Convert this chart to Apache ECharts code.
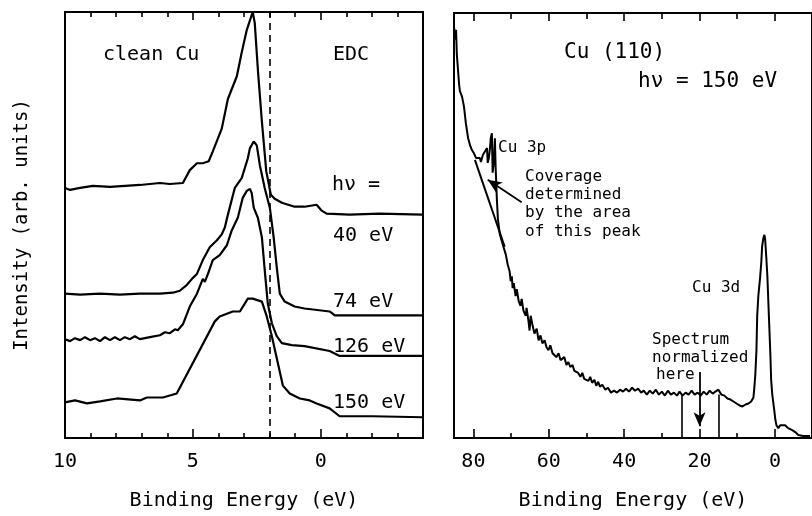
<!DOCTYPE html>
<html><head><meta charset="utf-8">
<script src="https://cdn.jsdelivr.net/npm/echarts@6/dist/echarts.min.js"></script>
<style>html,body{margin:0;padding:0;background:#fff}#c{width:812px;height:516px}</style>
</head><body><div id="c"></div>
<script>
// ---------- Left panel: EDCs of clean Cu (binding energy eV, intensity arb. units) ----------
const edc40E = [10.00, 9.80, 9.41, 8.91, 8.24, 7.07, 6.29, 5.90, 5.39, 5.12, 4.84, 4.61, 4.38, 4.22, 3.87, 3.63, 3.28, 3.09, 2.89, 2.66, 2.58, 2.45, 2.30, 2.13, 1.95, 1.80, 1.52, 1.02, 0.63, 0.16, -0.04, -0.23, -1.13, -2.30, -3.98];
const edc40I = [253, 251, 253, 255, 254, 256, 258, 257, 258, 271, 278, 278, 280, 290, 313, 343, 366, 390, 413, 431, 420, 370, 320, 270, 246, 242, 238, 234, 234, 236, 230, 227, 226, 227, 226];

const edc74E = [10.00, 9.41, 8.63, 7.85, 7.07, 6.29, 5.78, 5.51, 5.23, 5.00, 4.84, 4.61, 4.34, 4.06, 3.87, 3.75, 3.63, 3.36, 3.09, 2.85, 2.77, 2.62, 2.50, 2.38, 2.19, 1.99, 1.84, 1.72, 1.60, 1.41, 1.02, 0.63, -0.35, -0.55, -3.98];
const edc74I = [146, 145, 146, 145, 146, 146, 147, 149, 155, 162, 166, 180, 193, 200, 206, 213, 226, 253, 263, 283, 293, 300, 296, 276, 253, 233, 203, 173, 146, 138, 133, 131, 128, 124, 124];

const edc126E = [10.00, 9.80, 9.61, 9.41, 9.22, 9.02, 8.83, 8.63, 8.44, 8.24, 8.05, 7.85, 7.66, 7.46, 7.27, 7.07, 6.68, 6.29, 6.09, 5.90, 5.70, 5.59, 5.39, 5.12, 4.84, 4.61, 4.53, 4.41, 4.22, 3.95, 3.67, 3.48, 3.24, 3.05, 2.89, 2.77, 2.70, 2.62, 2.46, 2.30, 2.19, 2.07, 1.91, 1.72, 1.52, 1.13, 0.63, -0.35, -0.74, -3.98];
const edc126I = [100, 98, 101, 99, 102, 99, 101, 98, 102, 99, 102, 99, 102, 100, 103, 100, 102, 104, 107, 106, 110, 109, 115, 133, 146, 161, 158, 166, 180, 185, 195, 210, 223, 243, 250, 252, 248, 233, 223, 203, 170, 136, 116, 103, 96, 94, 93, 88, 83, 83];

const edc150E = [10.00, 9.61, 9.14, 8.63, 7.97, 7.07, 6.80, 6.17, 5.63, 4.14, 3.95, 3.44, 3.16, 2.85, 2.66, 2.30, 2.11, 1.91, 1.80, 1.48, 1.21, 0.82, 0.43, 0.16, -0.35, -0.74, -2.03, -3.98];
const edc150I = [36, 38, 35, 37, 40, 38, 41, 41, 45, 118, 123, 128, 128, 141, 141, 138, 123, 103, 90, 53, 45, 40, 38, 35, 30, 22, 22, 21];

const edcRefLine = 2.0;              // dashed vertical reference (eV)
const leftMajorTicks = [10, 5, 0];
const leftMinorTicks = [9, 8, 7, 6, 4, 3, 2, 1, -1, -2, -3];
const leftRange = [-4, 10];
const leftIRange = [0, 431];

// ---------- Right panel: Cu(110) spectrum at hv = 150 eV ----------
const specE = [85.1, 84.9, 84.6, 84.4, 84.1, 83.8, 83.6, 83.0, 82.5, 82.0,
  81.4, 80.9, 80.4, 79.9, 79.3, 78.8, 78.3, 78.0, 77.5, 77.0,
  76.4, 76.2, 75.9, 75.6, 75.4, 75.1, 74.9, 74.6, 74.3, 74.1,
  73.8, 73.5, 73.0, 72.2, 71.4, 70.9, 70.4, 70.1, 69.8, 69.6,
  69.3, 68.8, 68.5, 68.0, 67.5, 67.2, 66.7, 66.1, 65.9, 65.4,
  65.1, 64.8, 64.3, 63.8, 63.2, 62.7, 62.2, 61.7, 61.1, 60.6,
  60.1, 59.6, 59.0, 58.5, 58.0, 57.4, 56.9, 56.4, 55.9, 55.3,
  54.8, 54.3, 53.7, 53.2, 52.7, 52.2, 51.6, 51.1, 50.6, 50.1,
  49.5, 49.0, 48.5, 47.9, 47.4, 46.9, 46.4, 45.8, 45.0, 44.3,
  43.5, 42.7, 41.9, 41.1, 40.3, 39.5, 38.7, 37.9, 37.1, 36.3,
  35.5, 34.8, 34.0, 33.2, 32.4, 31.6, 30.8, 30.0, 29.2, 28.4,
  27.6, 26.8, 26.0, 25.3, 24.5, 23.7, 22.9, 22.1, 21.3, 20.5,
  19.7, 18.9, 18.1, 17.3, 16.5, 15.8, 15.0, 14.2, 13.4, 12.6,
  11.8, 11.0, 10.2, 9.4, 8.6, 7.8, 7.0, 6.3, 5.7, 5.5,
  5.2, 4.9, 4.7, 4.4, 4.1, 3.9, 3.6, 3.4, 3.1, 2.8,
  2.6, 2.3, 2.0, 1.8, 1.5, 1.2, 1.0, 0.7, 0.2, -0.1,
  -0.4, -0.9, -1.4, -1.9, -2.7, -3.5, -4.6, -5.4, -6.2, -7.5, -9.3];
const specI = [416, 404, 414, 389, 374, 359, 352, 346, 336, 319,
  304, 297, 292, 289, 284, 282, 284, 280, 287, 289,
  294, 279, 284, 294, 304, 309, 269, 279, 304, 274,
  244, 222, 207, 196, 186, 176, 169, 159, 164, 152,
  157, 144, 151, 139, 134, 141, 129, 124, 132, 119,
  109, 124, 114, 106, 111, 99, 104, 96, 99, 92,
  89, 94, 86, 88, 82, 86, 79, 78, 82, 74,
  77, 72, 74, 68, 70, 66, 62, 66, 60, 62,
  58, 62, 56, 59, 53, 57, 52, 54, 49, 51,
  46, 48, 46, 49, 47, 50, 47, 51, 48, 50,
  46, 48, 44, 48, 45, 49, 44, 47, 43, 48,
  44, 46, 43, 47, 43, 46, 44, 48, 44, 46,
  43, 47, 44, 48, 45, 47, 49, 44, 43, 40,
  39, 37, 35, 33, 32, 34, 35, 37, 41, 49,
  64, 89, 124, 144, 156, 164, 179, 194, 202, 206,
  202, 184, 164, 144, 114, 84, 59, 44, 29, 19,
  13, 10, 13, 14, 13, 10, 8, 6, 3, 2, 2];

const bgLineE = [79.6, 71.7];        // linear background under Cu 3p
const bgLineI = [282, 194];
const normMarkE = [24.7, 15.0];      // normalization window limits
const normMarkTop = 44;
const normArrow = {E: 20.0, from: 67, to: 12};
const cu3pArrow = {fromE: 67.2, fromI: 239, toE: 76.2, toI: 262};
const rightMajorTicks = [80, 60, 40, 20, 0];
const rightMinorTicks = [70, 50, 30, 10];
const rightRange = [-9.84, 85.15];
const rightIRange = [0, 431];

const FONT = "'DejaVu Sans Mono', monospace";
const zip = (a, b) => a.map((v, i) => [v, b[i]]);
const black = '#000';

function xAx(grid, pos, range, ticks, len, opts) {
  return Object.assign({
    type: 'value', gridIndex: grid, position: pos, min: range[0], max: range[1], inverse: true,
    axisLine: {show: false},
    axisTick: {show: true, inside: true, length: len, customValues: ticks, lineStyle: {color: black, width: 1.6}},
    axisLabel: {show: false},
    splitLine: {show: false}
  }, opts || {});
}
const labelStyle = {show: true, color: black, fontSize: 20, fontFamily: FONT, margin: 14};
const nameStyle = {color: black, fontSize: 20, fontFamily: FONT};

const xAxes = [
  xAx(0, 'bottom', leftRange, leftMajorTicks, 9, {
    axisLine: {show: true, lineStyle: {color: black, width: 2}},
    axisLabel: Object.assign({customValues: leftMajorTicks}, labelStyle),
    name: 'Binding Energy (eV)', nameLocation: 'middle', nameGap: 53, nameTextStyle: nameStyle
  }),
  xAx(0, 'bottom', leftRange, leftMinorTicks, 5),
  xAx(0, 'top', leftRange, leftMajorTicks, 8),
  xAx(0, 'top', leftRange, leftMinorTicks, 5),
  xAx(1, 'bottom', rightRange, rightMajorTicks, 9, {
    axisLine: {show: true, lineStyle: {color: black, width: 2}},
    axisLabel: Object.assign({customValues: rightMajorTicks}, labelStyle),
    name: 'Binding Energy (eV)', nameLocation: 'middle', nameGap: 53, nameTextStyle: nameStyle
  }),
  xAx(1, 'bottom', rightRange, rightMinorTicks, 5),
  xAx(1, 'top', rightRange, rightMajorTicks, 8),
  xAx(1, 'top', rightRange, rightMinorTicks, 6)
];

const yAxes = [
  {type: 'value', gridIndex: 0, min: leftIRange[0], max: leftIRange[1],
   axisLine: {show: false}, axisTick: {show: false}, axisLabel: {show: false}, splitLine: {show: false},
   name: 'Intensity (arb. units)', nameLocation: 'middle', nameRotate: 90, nameGap: 33,
   nameTextStyle: {color: black, fontSize: 19, fontFamily: FONT}},
  {type: 'value', gridIndex: 1, min: rightIRange[0], max: rightIRange[1],
   axisLine: {show: false}, axisTick: {show: false}, axisLabel: {show: false}, splitLine: {show: false}}
];

const lineBase = {type: 'line', showSymbol: false, symbol: 'none', silent: true,
  lineStyle: {color: black, width: 2.2}, z: 3};
function curve(E, I, xi, yi) {
  return Object.assign({}, lineBase, {xAxisIndex: xi, yAxisIndex: yi, data: zip(E, I)});
}

const series = [
  curve(edc40E, edc40I, 0, 0),
  curve(edc74E, edc74I, 0, 0),
  curve(edc126E, edc126I, 0, 0),
  Object.assign(curve(edc150E, edc150I, 0, 0), {
    markLine: {silent: true, symbol: ['none', 'none'], label: {show: false},
      lineStyle: {color: black, width: 1.6, type: [7, 5]},
      data: [{xAxis: edcRefLine}]}
  }),
  Object.assign(curve(specE, specI, 4, 1), {lineStyle: {color: black, width: 2}}),
  Object.assign(curve(bgLineE, bgLineI, 4, 1), {lineStyle: {color: black, width: 2}}),
  Object.assign({}, lineBase, {xAxisIndex: 4, yAxisIndex: 1, data: [],
    markLine: {silent: true, label: {show: false}, symbol: ['none', 'none'],
      lineStyle: {color: black, width: 1.6, type: 'solid'},
      data: normMarkE.map(e => [{coord: [e, 0]}, {coord: [e, normMarkTop]}])}
  }),
  Object.assign({}, lineBase, {xAxisIndex: 4, yAxisIndex: 1, data: [],
    markLine: {silent: true, label: {show: false}, symbol: ['none', 'arrow'], symbolSize: [9, 14],
      lineStyle: {color: black, width: 1.8, type: 'solid'},
      data: [
        [{coord: [normArrow.E, normArrow.from]}, {coord: [normArrow.E, normArrow.to]}],
        [{coord: [cu3pArrow.fromE, cu3pArrow.fromI]}, {coord: [cu3pArrow.toE, cu3pArrow.toI]}]
      ]}
  })
];

function txt(t, x, y, size) {
  return {type: 'text', x: x, y: y, silent: true, z: 10,
    style: {text: t, fill: black, font: (size || 20) + 'px ' + FONT, verticalAlign: 'middle', align: 'left'}};
}
const graphic = [
  txt('clean Cu', 103, 55),
  txt('EDC', 333, 55),
  txt('hν =', 332, 185),
  txt('40 eV', 333, 236),
  txt('74 eV', 333, 302),
  txt('126 eV', 333, 347),
  txt('150 eV', 333, 403),
  txt('Cu (110)', 564, 53, 21),
  txt('hν = 150 eV', 638, 82, 21),
  txt('Cu 3p', 498, 148, 16),
  txt('Coverage', 525, 177, 16),
  txt('determined', 525, 195, 16),
  txt('by the area', 525, 213, 16),
  txt('of this peak', 525, 232, 16),
  txt('Cu 3d', 692, 288, 16),
  txt('Spectrum', 652, 340, 16),
  txt('normalized', 652, 358, 16),
  txt('here', 656, 375, 16)
];

const chart = echarts.init(document.getElementById('c'), null, {renderer: 'canvas'});
chart.setOption({
  animation: false,
  backgroundColor: '#fff',
  grid: [
    {left: 65, top: 12, width: 358, height: 431, show: true, borderColor: black, borderWidth: 2, backgroundColor: 'transparent'},
    {left: 454, top: 13, width: 360, height: 431, show: true, borderColor: black, borderWidth: 2, backgroundColor: 'transparent'}
  ],
  xAxis: xAxes,
  yAxis: yAxes,
  series: series,
  graphic: graphic
});
</script></body></html>
